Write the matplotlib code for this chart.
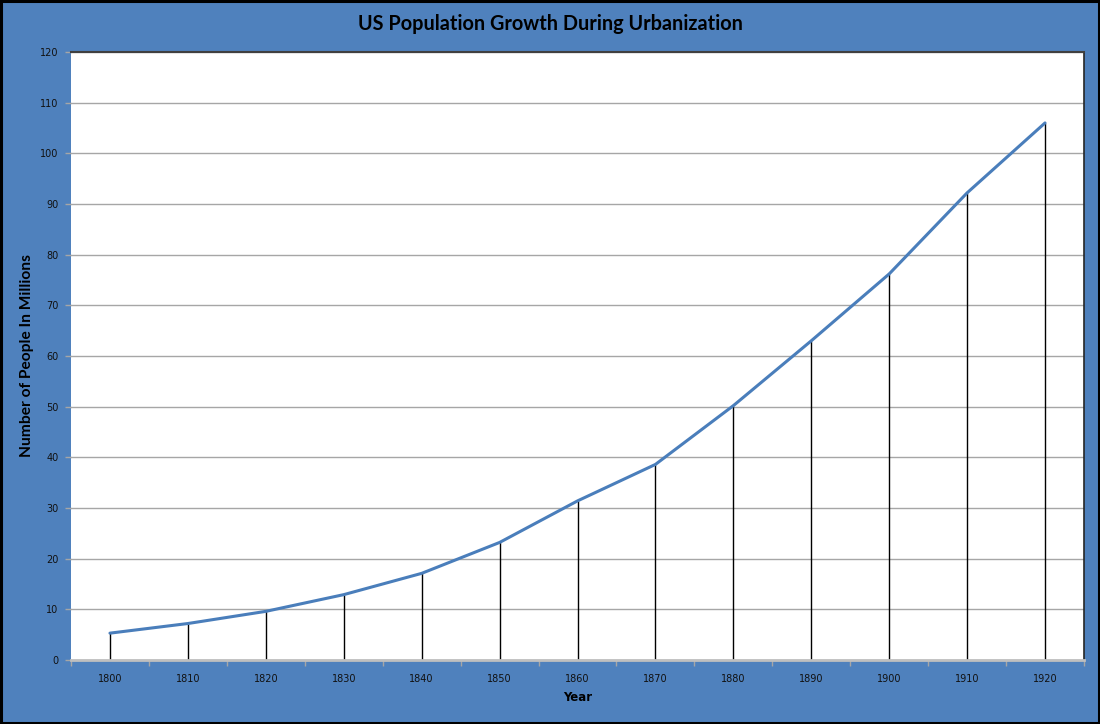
import numpy as np
import matplotlib
matplotlib.use('Agg')
import matplotlib.pyplot as plt
from matplotlib.patches import Rectangle

# Data (US census population, millions)
years = ['1800', '1810', '1820', '1830', '1840', '1850', '1860',
         '1870', '1880', '1890', '1900', '1910', '1920']
population = [5.3, 7.2, 9.6, 12.9, 17.1, 23.2, 31.4,
              38.6, 50.2, 63.0, 76.2, 92.2, 106.0]

bg_blue = '#4F81BD'
line_blue = '#4A7EBB'

fig = plt.figure(figsize=(11, 7.24), dpi=100, facecolor=bg_blue)
ax = fig.add_axes([71 / 1100, 1 - 660 / 724, 1013 / 1100, 608 / 724])
ax.set_facecolor('white')

x = np.arange(len(years))

# gridlines
ax.set_ylim(0, 120)
ax.set_yticks(range(0, 121, 10))
ax.yaxis.grid(True, color='#A6A6A6', linewidth=1.0)
ax.set_axisbelow(True)

# drop lines from each point down to the axis
ax.vlines(x, 0, population, colors='black', linewidth=1.0, zorder=2)

ax.plot(x, population, color=line_blue, linewidth=2.2, zorder=3,
        solid_capstyle='round')

ax.set_xlim(-0.5, len(years) - 0.5)
ax.set_xticks(x)
ax.set_xticklabels(years)
ax.set_xticks(np.arange(-0.5, len(years)), minor=True)
ax.tick_params(axis='x', which='major', length=0, pad=10,
               labelsize=7, labelcolor='#111111')
ax.tick_params(axis='x', which='minor', length=4, color='#A6A6A6',
               width=1.0, direction='out')
ax.tick_params(axis='y', length=4, color='#A6A6A6', width=1.0,
               labelsize=7, labelcolor='#111111', pad=5)

ax.spines['left'].set_visible(False)
ax.spines['bottom'].set_color('#BFBFBF')
ax.spines['bottom'].set_linewidth(2.0)
ax.spines['top'].set_color('#404040')
ax.spines['top'].set_linewidth(1.5)
ax.spines['right'].set_color('#262626')
ax.spines['right'].set_linewidth(1.2)

ax.set_xlabel('Year', fontsize=8.5, fontweight='bold',
              family='DejaVu Sans', labelpad=5)
ax.set_ylabel('Number of People In Millions', fontsize=11.2,
              fontweight='bold', family='Lato', labelpad=4)

fig.text(0.5, 1 - 24 / 724, 'US Population Growth During Urbanization',
         ha='center', va='center', fontsize=14.3, fontweight='bold',
         family='Lato', color='black')

# outer black frame
fig.patches.append(Rectangle((0.001, 0.0015), 0.998, 0.997,
                             transform=fig.transFigure, fill=False,
                             edgecolor='black', linewidth=2.2))

fig.savefig('out.png', dpi=100, facecolor=bg_blue)
